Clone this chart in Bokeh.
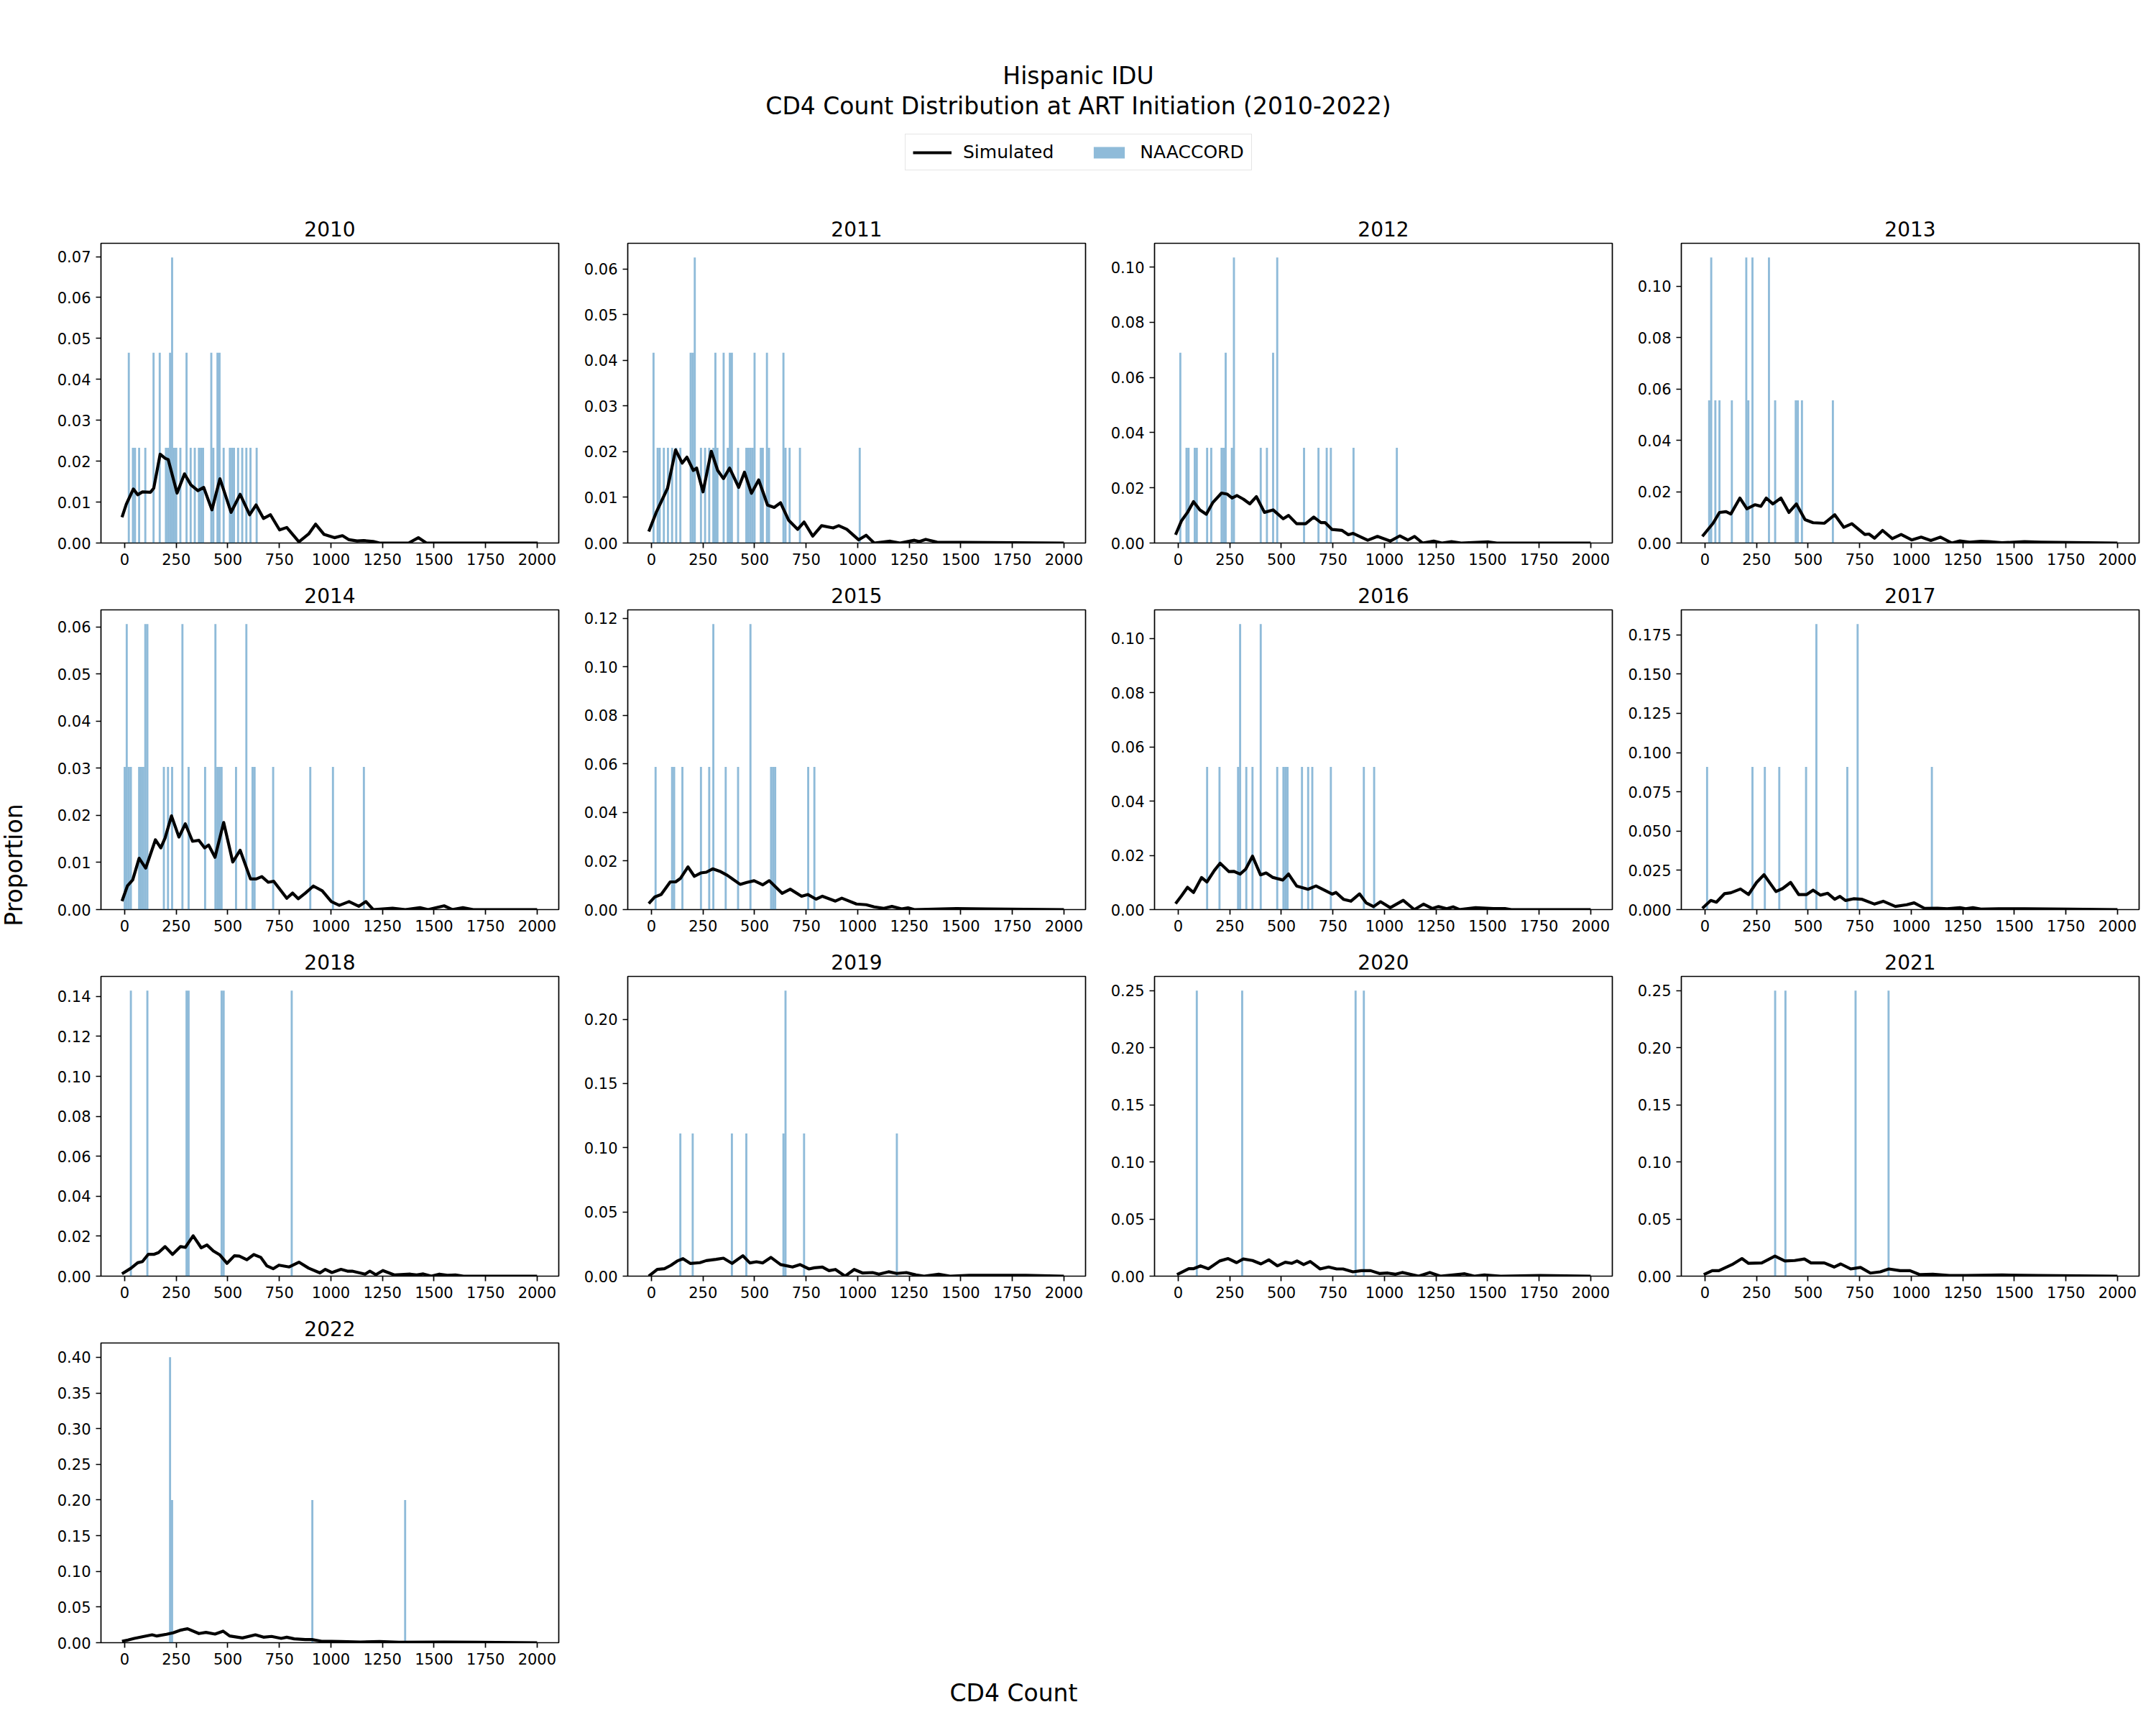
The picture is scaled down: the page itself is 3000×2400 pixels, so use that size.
import numpy as np
from bokeh.plotting import figure
from bokeh.layouts import column, row, gridplot
from bokeh.models import Range1d, FixedTicker, PrintfTickFormatter, Legend, LegendItem, ColumnDataSource
from bokeh.core.properties import value
from bokeh.embed import file_html
from bokeh.resources import INLINE

FONT = "DejaVu Sans"

# ---------------------------------------------------------------------------
# NAACCORD observed CD4 counts at ART initiation: 10-cell bins (bin centre)
# and number of patients in each bin, by year.
# ---------------------------------------------------------------------------
bins_2010 = [20, 40, 50, 70, 100, 140, 170, 200, 210, 220, 230, 240, 250, 270, 300, 320, 340, 360, 370, 380,
             420, 430, 450, 460, 480, 510, 520, 530, 550, 570, 590, 610, 640]
counts_2010 = [2, 1, 1, 1, 1, 2, 2, 1, 1, 2, 3, 1, 1, 1, 2, 1, 1, 1, 1, 1,
               2, 1, 2, 2, 1, 1, 1, 1, 1, 1, 1, 1, 1]

bins_2011 = [10, 30, 40, 60, 80, 100, 120, 140, 190, 200, 210, 240, 260, 280, 300, 310, 320, 350, 370, 380,
             390, 420, 460, 470, 480, 490, 500, 530, 540, 560, 570, 640, 650, 670, 720, 1010]
counts_2011 = [2, 1, 1, 1, 1, 1, 1, 1, 2, 2, 3, 1, 1, 1, 1, 2, 1, 2, 1, 2,
               2, 1, 1, 1, 1, 1, 2, 1, 1, 2, 1, 2, 1, 1, 1, 1]

bins_2012 = [10, 40, 50, 80, 90, 140, 160, 210, 220, 230, 260, 270, 400, 430, 460, 480, 610, 680, 720, 740, 850, 1060]
counts_2012 = [2, 1, 1, 1, 1, 1, 1, 1, 1, 2, 1, 3, 1, 1, 2, 3, 1, 1, 1, 1, 1, 1]

bins_2013 = [20, 30, 50, 70, 130, 200, 210, 230, 310, 340, 440, 450, 470, 620]
counts_2013 = [1, 2, 1, 1, 1, 2, 1, 2, 2, 1, 1, 1, 1, 1]

bins_2014 = [0, 10, 20, 30, 70, 80, 90, 100, 110, 190, 210, 230, 280, 310, 390, 440, 450, 460, 470, 540,
             590, 620, 630, 720, 900, 1010, 1160]
counts_2014 = [1, 2, 1, 1, 1, 1, 1, 2, 2, 1, 1, 1, 2, 1, 1, 2, 1, 1, 1, 1,
               2, 1, 1, 1, 1, 1, 1]

bins_2015 = [20, 100, 110, 150, 240, 280, 300, 360, 420, 480, 580, 590, 600, 760, 790]
counts_2015 = [1, 1, 1, 1, 1, 1, 2, 1, 1, 2, 1, 1, 1, 1, 1]

bins_2016 = [140, 200, 290, 300, 330, 360, 400, 480, 510, 520, 530, 600, 630, 650, 740, 900, 950]
counts_2016 = [1, 1, 1, 2, 1, 1, 2, 1, 1, 1, 1, 1, 1, 1, 1, 1, 1]

bins_2017 = [10, 230, 290, 360, 490, 540, 690, 740, 1100]
counts_2017 = [1, 1, 1, 1, 1, 2, 1, 2, 1]

bins_2018 = [30, 110, 300, 310, 470, 480, 810]
counts_2018 = [1, 1, 1, 1, 1, 1, 1]

bins_2019 = [140, 200, 390, 460, 640, 650, 740, 1190]
counts_2019 = [1, 1, 1, 1, 1, 2, 1, 1]

bins_2020 = [90, 310, 860, 900]
counts_2020 = [1, 1, 1, 1]

bins_2021 = [340, 390, 730, 890]
counts_2021 = [1, 1, 1, 1]

bins_2022 = [220, 230, 910, 1360]
counts_2022 = [2, 1, 1, 1]

# ---------------------------------------------------------------------------
# Simulated CD4 count density at ART initiation, by year.
# ---------------------------------------------------------------------------
sim_x_2010 = [-13, 8, 42, 63, 86, 125, 141, 172, 196, 211, 254, 290, 321, 355, 383, 423, 462, 516, 560, 606,
              637, 673, 707, 751, 786, 845, 892, 926, 967, 1017, 1056, 1088, 1127, 1158, 1205, 1236, 1377, 1424, 1463, 2003]
sim_y_2010 = [0.0063, 0.0095, 0.0132, 0.0118, 0.0125, 0.0124, 0.0134, 0.0217, 0.0207, 0.0204, 0.0122, 0.0169, 0.0142,
              0.0128, 0.0136, 0.0081, 0.0157, 0.0075, 0.0119, 0.0069, 0.0093, 0.0060, 0.0069, 0.0032, 0.0038, 0.0003,
              0.0022, 0.0046, 0.0021, 0.0013, 0.0018, 0.0008, 0.0005, 0.0006, 0.0004, 0.0, 0.0, 0.0013, 0.0, 0.0]

sim_x_2011 = [-13, 23, 78, 117, 149, 172, 203, 219, 250, 290, 321, 349, 379, 423, 451, 485, 520, 563, 595, 626,
              665, 709, 740, 782, 825, 881, 908, 947, 1005, 1041, 1080, 1158, 1205, 1275, 1299, 1330, 1385, 2000]
sim_y_2011 = [0.0025, 0.0067, 0.012, 0.0204, 0.0175, 0.0188, 0.0159, 0.0164, 0.0112, 0.0201, 0.0159, 0.0141, 0.0164,
              0.0122, 0.0155, 0.0109, 0.0138, 0.0083, 0.0078, 0.0088, 0.005, 0.003, 0.0046, 0.0015, 0.0038, 0.0033,
              0.0038, 0.003, 0.0007, 0.0017, 0.0, 0.0004, 0.0, 0.0006, 0.0003, 0.0008, 0.0002, 0.0]

sim_x_2012 = [-13, 16, 45, 74, 105, 136, 167, 210, 238, 261, 285, 316, 347, 379, 418, 460, 509, 535, 574, 618,
              657, 692, 712, 746, 793, 825, 848, 919, 966, 1028, 1075, 1114, 1146, 1185, 1239, 1279, 1325, 1372,
              1505, 1545, 2000]
sim_y_2012 = [0.003, 0.0081, 0.0111, 0.015, 0.012, 0.0104, 0.0146, 0.0181, 0.0177, 0.0163, 0.0172, 0.0159, 0.0142,
              0.0168, 0.0111, 0.012, 0.0088, 0.01, 0.007, 0.007, 0.0094, 0.0074, 0.0074, 0.0049, 0.0046, 0.003,
              0.0035, 0.001, 0.0024, 0.0007, 0.0026, 0.0011, 0.0024, 0.0, 0.0007, 0.0, 0.0005, 0.0, 0.0004, 0.0, 0.0]

sim_x_2013 = [-13, 39, 70, 102, 125, 169, 203, 243, 271, 297, 329, 368, 407, 443, 485, 524, 579, 629, 673, 712,
              775, 795, 822, 861, 908, 951, 1002, 1048, 1095, 1142, 1197, 1236, 1283, 1338, 1377, 1440, 1549, 1628, 2000]
sim_y_2013 = [0.0026, 0.0077, 0.0119, 0.0122, 0.0113, 0.0175, 0.0133, 0.0149, 0.0143, 0.0175, 0.0152, 0.0175, 0.0119,
              0.0152, 0.0091, 0.0079, 0.0077, 0.011, 0.0061, 0.0075, 0.0033, 0.0035, 0.0019, 0.0049, 0.0017, 0.0033,
              0.0012, 0.0023, 0.001, 0.0023, 0.0, 0.0008, 0.0003, 0.0007, 0.0005, 0.0001, 0.0005, 0.0003, 0.0]

sim_x_2014 = [-13, 13, 39, 70, 102, 149, 175, 196, 227, 263, 294, 329, 360, 388, 407, 438, 480, 524, 560, 610,
              638, 665, 696, 723, 786, 814, 842, 876, 915, 958, 1002, 1041, 1088, 1135, 1170, 1205, 1299, 1361,
              1432, 1471, 1549, 1588, 1640, 1690, 2000]
sim_y_2014 = [0.0018, 0.005, 0.0063, 0.0109, 0.0088, 0.0148, 0.0131, 0.0152, 0.0199, 0.0154, 0.0182, 0.0145, 0.0147,
              0.0131, 0.0137, 0.0111, 0.0185, 0.0101, 0.0126, 0.0065, 0.0065, 0.007, 0.0058, 0.006, 0.0024, 0.0035,
              0.0023, 0.0035, 0.005, 0.004, 0.0017, 0.0009, 0.0017, 0.0007, 0.0017, 0.0, 0.0003, 0.0, 0.0004, 0.0,
              0.0008, 0.0, 0.0004, 0.0, 0.0]

sim_x_2015 = [-13, 16, 47, 91, 117, 141, 177, 208, 239, 266, 297, 336, 368, 430, 462, 498, 540, 571, 634, 673,
              728, 759, 798, 829, 892, 923, 994, 1041, 1080, 1127, 1166, 1213, 1244, 1275, 1408, 1479, 1620, 2000]
sim_y_2015 = [0.0025, 0.0052, 0.0062, 0.0114, 0.0114, 0.0129, 0.0176, 0.0137, 0.0151, 0.0154, 0.0168, 0.0156, 0.0141,
              0.0104, 0.0112, 0.0119, 0.0102, 0.0119, 0.0067, 0.0084, 0.0055, 0.0062, 0.0043, 0.0055, 0.0035, 0.0047,
              0.0023, 0.002, 0.0011, 0.0005, 0.0013, 0.0003, 0.0007, 0.0, 0.0003, 0.0004, 0.0003, 0.0]

sim_x_2016 = [-13, 16, 45, 74, 113, 139, 175, 203, 246, 269, 300, 327, 360, 399, 426, 457, 507, 535, 574, 629,
              668, 715, 746, 765, 801, 837, 879, 911, 947, 981, 1028, 1091, 1145, 1189, 1232, 1262, 1302, 1333,
              1364, 1442, 1529, 1584, 1615, 2000]
sim_y_2016 = [0.0022, 0.0051, 0.0082, 0.0063, 0.0118, 0.0102, 0.0144, 0.0171, 0.014, 0.0141, 0.0131, 0.0149, 0.0197,
              0.0128, 0.0135, 0.0119, 0.0109, 0.0131, 0.0087, 0.0075, 0.0087, 0.0069, 0.0057, 0.0063, 0.0038, 0.0031,
              0.0058, 0.0025, 0.0011, 0.0029, 0.0007, 0.0034, 0.0, 0.002, 0.0004, 0.0011, 0.0003, 0.001, 0.0, 0.0007,
              0.0004, 0.0004, 0.0, 0.0]

sim_x_2017 = [-13, 28, 55, 94, 125, 172, 211, 250, 286, 344, 376, 415, 454, 493, 524, 560, 595, 629, 654, 681,
              720, 759, 822, 864, 923, 978, 1014, 1064, 1127, 1174, 1236, 1264, 1299, 1338, 1424, 1549, 1753, 2000]
sim_y_2017 = [0.0008, 0.0058, 0.0047, 0.0101, 0.0107, 0.0131, 0.0096, 0.0173, 0.0222, 0.0115, 0.0134, 0.0173, 0.0096,
              0.0096, 0.0124, 0.0092, 0.0104, 0.0066, 0.0084, 0.0058, 0.0069, 0.0066, 0.0035, 0.0053, 0.002, 0.0031,
              0.0043, 0.0008, 0.0009, 0.0005, 0.0012, 0.0005, 0.0012, 0.0003, 0.0005, 0.0005, 0.0003, 0.0]

sim_x_2018 = [-13, 31, 63, 86, 114, 141, 164, 196, 232, 271, 294, 332, 371, 399, 430, 462, 496, 532, 556, 592,
              626, 660, 689, 720, 748, 798, 845, 892, 947, 973, 1005, 1049, 1080, 1103, 1166, 1189, 1218, 1252,
              1307, 1385, 1416, 1448, 1487, 1526, 1565, 1604, 1643, 2000]
sim_y_2018 = [0.0012, 0.004, 0.0067, 0.0073, 0.0109, 0.0109, 0.0118, 0.0148, 0.0109, 0.0148, 0.0144, 0.0202, 0.0142,
              0.0156, 0.0126, 0.0106, 0.0064, 0.0102, 0.01, 0.0082, 0.0108, 0.0094, 0.0052, 0.0037, 0.0055, 0.0046,
              0.007, 0.004, 0.0016, 0.0034, 0.0018, 0.0034, 0.0025, 0.0025, 0.001, 0.0025, 0.0007, 0.0028, 0.0006,
              0.001, 0.0006, 0.0011, 0.0, 0.001, 0.0004, 0.0006, 0.0, 0.0]

sim_x_2019 = [-13, 28, 63, 94, 125, 153, 188, 235, 266, 313, 349, 391, 443, 477, 509, 540, 579, 626, 684, 720,
              764, 790, 829, 861, 892, 939, 983, 1025, 1072, 1103, 1150, 1189, 1236, 1283, 1322, 1393, 1448, 1541,
              1596, 1761, 1815, 2000]
sim_y_2019 = [0.0, 0.0052, 0.0058, 0.0084, 0.0118, 0.0136, 0.0099, 0.0105, 0.0121, 0.0131, 0.014, 0.0099, 0.0159,
              0.0103, 0.0112, 0.0103, 0.0146, 0.009, 0.0071, 0.009, 0.0056, 0.0065, 0.0071, 0.0043, 0.0052, 0.0,
              0.0052, 0.0024, 0.0028, 0.0015, 0.0034, 0.0021, 0.0028, 0.0009, 0.0, 0.0015, 0.0, 0.0006, 0.0006,
              0.0006, 0.0006, 0.0]

sim_x_2020 = [-6, 51, 73, 108, 146, 201, 242, 283, 315, 360, 401, 439, 481, 519, 551, 576, 608, 640, 688, 729,
              768, 799, 847, 888, 933, 975, 1016, 1054, 1086, 1124, 1166, 1220, 1271, 1389, 1436, 1484, 1564, 1755, 2000]
sim_y_2020 = [0.0013, 0.0065, 0.0065, 0.009, 0.0065, 0.0133, 0.0154, 0.0118, 0.015, 0.0137, 0.0107, 0.0143, 0.009,
              0.0122, 0.0112, 0.0133, 0.0101, 0.0128, 0.0063, 0.008, 0.0063, 0.0063, 0.0038, 0.0048, 0.0048, 0.0023,
              0.0027, 0.0017, 0.0032, 0.0017, 0.0, 0.0032, 0.0, 0.0021, 0.0, 0.001, 0.0, 0.0006, 0.0]

sim_x_2021 = [-6, 35, 67, 131, 179, 211, 275, 339, 387, 435, 482, 514, 578, 626, 658, 706, 754, 802, 850, 891,
              946, 994, 1042, 1105, 1185, 1265, 1441, 1617, 2000]
sim_y_2021 = [0.0013, 0.0048, 0.0048, 0.0101, 0.0154, 0.0112, 0.0116, 0.0175, 0.0133, 0.0137, 0.015, 0.0116, 0.0116,
              0.008, 0.0107, 0.0063, 0.0076, 0.0027, 0.0038, 0.0063, 0.0048, 0.0048, 0.0013, 0.0017, 0.0006, 0.0006,
              0.001, 0.0006, 0.0]

sim_x_2022 = [-13, 16, 47, 94, 133, 156, 203, 235, 274, 305, 360, 394, 438, 477, 509, 571, 634, 673, 712, 759,
              786, 822, 876, 908, 955, 1002, 1049, 1143, 1236, 1330, 1549, 1706, 2000]
sim_y_2022 = [0.002, 0.0037, 0.0061, 0.0088, 0.0111, 0.0094, 0.0118, 0.0138, 0.0178, 0.0195, 0.0128, 0.0145, 0.0121,
              0.0162, 0.0094, 0.0067, 0.0111, 0.0077, 0.0088, 0.0061, 0.0077, 0.0054, 0.0044, 0.0044, 0.002, 0.002,
              0.0017, 0.001, 0.0017, 0.0007, 0.001, 0.0007, 0.0]

years = [2010, 2011, 2012, 2013, 2014, 2015, 2016, 2017, 2018, 2019, 2020, 2021, 2022]
x_ticks = [0, 250, 500, 750, 1000, 1250, 1500, 1750, 2000]
# y tick spacing used on each year's panel
y_tick_steps = [0.01, 0.01, 0.02, 0.02, 0.01, 0.02, 0.02, 0.025, 0.02, 0.05, 0.05, 0.05, 0.05]

panel_data = [
    (bins_2010, counts_2010, sim_x_2010, sim_y_2010),
    (bins_2011, counts_2011, sim_x_2011, sim_y_2011),
    (bins_2012, counts_2012, sim_x_2012, sim_y_2012),
    (bins_2013, counts_2013, sim_x_2013, sim_y_2013),
    (bins_2014, counts_2014, sim_x_2014, sim_y_2014),
    (bins_2015, counts_2015, sim_x_2015, sim_y_2015),
    (bins_2016, counts_2016, sim_x_2016, sim_y_2016),
    (bins_2017, counts_2017, sim_x_2017, sim_y_2017),
    (bins_2018, counts_2018, sim_x_2018, sim_y_2018),
    (bins_2019, counts_2019, sim_x_2019, sim_y_2019),
    (bins_2020, counts_2020, sim_x_2020, sim_y_2020),
    (bins_2021, counts_2021, sim_x_2021, sim_y_2021),
    (bins_2022, counts_2022, sim_x_2022, sim_y_2022),
]

BAR_COLOR = "#1f77b4"
BIN_WIDTH = 10
TICK_FONT = "21px"
HEADER_H = 283


def make_panel(year, bins, counts, sim_x, sim_y, step):
    total = sum(counts)
    prop = [c / total for c in counts]
    y_top = 1.05 * max(max(prop), max(sim_y))

    p = figure(frame_width=637, frame_height=417,
               min_border_left=94, min_border_right=2, min_border_top=55, min_border_bottom=38,
               x_range=Range1d(-115, 2105), y_range=Range1d(0, y_top),
               output_backend="svg", toolbar_location=None, title=str(year))
    p.background_fill_color = "white"
    p.border_fill_color = "white"
    p.xgrid.visible = False
    p.ygrid.visible = False
    p.outline_line_color = "black"
    p.outline_line_width = 1.7

    p.title.align = "center"
    p.title.text_font = FONT
    p.title.text_font_size = "28px"
    p.title.text_font_style = "normal"
    p.title.text_color = "black"
    p.title.standoff = 20

    hist = ColumnDataSource(dict(x=bins, top=prop))
    p.vbar(x="x", top="top", bottom=0, width=BIN_WIDTH, source=hist,
           fill_color=BAR_COLOR, fill_alpha=0.5, line_color=None)

    sim = ColumnDataSource(dict(x=sim_x, y=sim_y))
    p.line(x="x", y="y", source=sim, line_color="black", line_width=4.2, line_join="round")

    p.xaxis.ticker = FixedTicker(ticks=x_ticks)
    y_ticks = [round(v, 4) for v in np.arange(0, y_top, step)]
    p.yaxis.ticker = FixedTicker(ticks=y_ticks)
    p.yaxis.formatter = PrintfTickFormatter(format="%.3f" if step == 0.025 else "%.2f")

    for ax in (p.xaxis, p.yaxis):
        ax.axis_line_color = None
        ax.major_tick_line_color = "black"
        ax.major_tick_line_width = 1.7
        ax.major_tick_out = 7
        ax.major_tick_in = 0
        ax.minor_tick_out = 0
        ax.minor_tick_in = 0
        ax.major_label_text_font = FONT
        ax.major_label_text_font_size = TICK_FONT
        ax.major_label_text_color = "black"
        ax.major_label_standoff = 7
    return p


panels = [make_panel(y, *d, s) for y, d, s in zip(years, panel_data, y_tick_steps)]
rows = [panels[i:i + 4] for i in range(0, len(panels), 4)]
rows[-1] = rows[-1] + [None] * (4 - len(rows[-1]))
grid = gridplot(rows, toolbar_location=None)


def blank(width, height):
    f = figure(width=width, height=height, min_border=0,
               x_range=Range1d(0, width), y_range=Range1d(0, height),
               x_axis_location=None, y_axis_location=None,
               output_backend="svg", toolbar_location=None)
    f.xgrid.visible = False
    f.ygrid.visible = False
    f.outline_line_color = None
    f.background_fill_color = "white"
    f.border_fill_color = "white"
    return f


# Figure title and shared legend
header = blank(3000, HEADER_H)
header.text(x=[1500, 1500], y=[HEADER_H - 105, HEADER_H - 147],
            text=["Hispanic IDU", "CD4 Count Distribution at ART Initiation (2010-2022)"],
            text_align="center", text_baseline="middle",
            text_font=value(FONT), text_font_size="33px", text_color="black")
# legend swatches: renderers kept outside the visible header area
r_sim = header.line(x=[-50, -40], y=[-50, -50], line_color="black", line_width=4.2)
r_obs = header.vbar(x=[-50], top=[-40], bottom=-50, width=5,
                    fill_color=BAR_COLOR, fill_alpha=0.5, line_color=None)
legend = Legend(items=[LegendItem(label="Simulated", renderers=[r_sim]),
                       LegendItem(label="NAACCORD", renderers=[r_obs])],
                orientation="horizontal", location=(1259, HEADER_H - 237),
                label_text_font=FONT, label_text_font_size="25px", label_text_color="black",
                glyph_width=54, glyph_height=20, label_standoff=16, spacing=50,
                padding=10, margin=0, label_height=24,
                border_line_color="#cccccc", border_line_width=1.5,
                background_fill_color="white", background_fill_alpha=1.0)
header.add_layout(legend)

# Shared y-axis label
ylab = blank(46, 2040)
ylab.text(x=[19], y=[2040 - (1203 - HEADER_H)], text=["Proportion"], angle=np.pi / 2,
          text_align="center", text_baseline="middle",
          text_font=value(FONT), text_font_size="33px", text_color="black")

# Shared x-axis label
FOOTER_H = 2400 - HEADER_H - 2040
footer = blank(3000, FOOTER_H)
footer.text(x=[1410], y=[FOOTER_H - (2355 - HEADER_H - 2040)], text=["CD4 Count"],
            text_align="center", text_baseline="middle",
            text_font=value(FONT), text_font_size="33px", text_color="black")

layout = column(header, row(ylab, grid), footer)

with open("out.html", "w") as fh:
    fh.write(file_html(layout, INLINE))
